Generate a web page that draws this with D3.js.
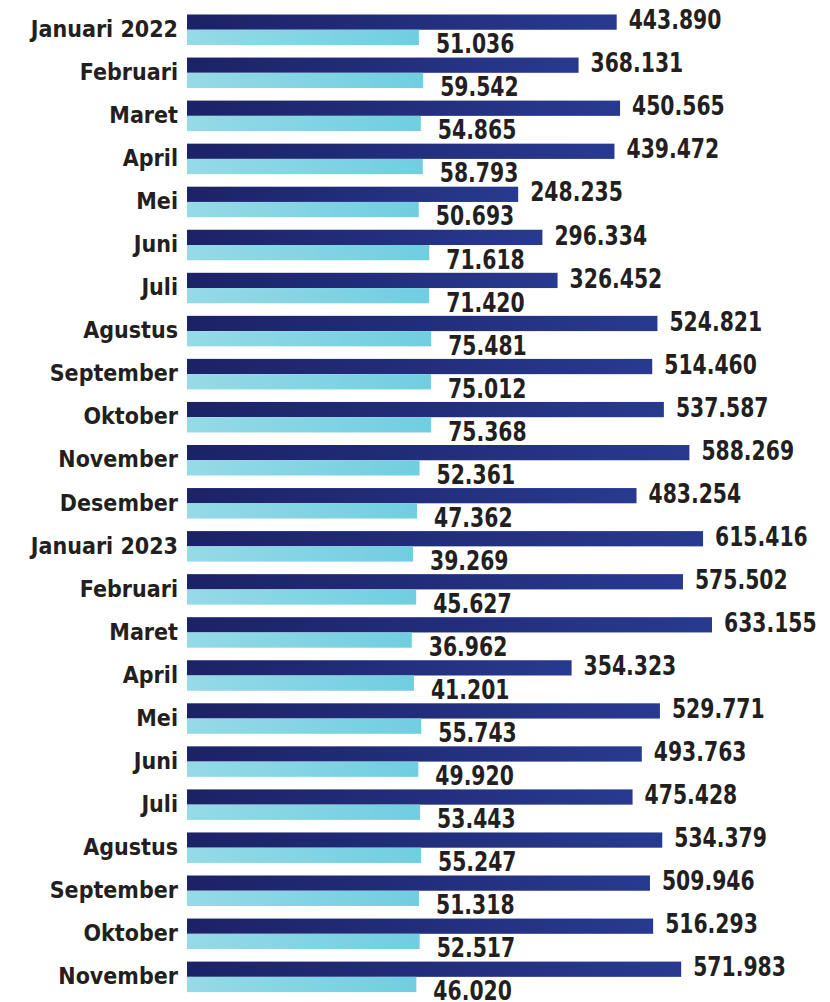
<!DOCTYPE html>
<html>
<head>
<meta charset="utf-8">
<script src="https://cdn.jsdelivr.net/npm/d3@7"></script>
<style>
  html, body { margin: 0; padding: 0; background: #fff; }
  svg { display: block; }
  .cat   { font-family: "DejaVu Sans Condensed", "DejaVu Sans", sans-serif; font-weight: bold; font-size: 23px; fill: #231f20; }
  .value { font-family: "DejaVu Sans Condensed", "DejaVu Sans", sans-serif; font-weight: bold; font-size: 26px; fill: #231f20; }
</style>
</head>
<body>
<svg id="chart"></svg>
<script>
// Month labels, top to bottom.
const months = [
  'Januari 2022', 'Februari', 'Maret', 'April', 'Mei', 'Juni', 'Juli', 'Agustus',
  'September', 'Oktober', 'November', 'Desember',
  'Januari 2023', 'Februari', 'Maret', 'April', 'Mei', 'Juni', 'Juli', 'Agustus',
  'September', 'Oktober', 'November'
];

// Dark (upper) bar of each pair.
const seriesA = [
  443890, 368131, 450565, 439472, 248235, 296334, 326452, 524821,
  514460, 537587, 588269, 483254,
  615416, 575502, 633155, 354323, 529771, 493763, 475428, 534379,
  509946, 516293, 571983
];

// Light (lower) bar of each pair.
const seriesB = [
  51036, 59542, 54865, 58793, 50693, 71618, 71420, 75481,
  75012, 75368, 52361, 47362,
  39269, 45627, 36962, 41201, 55743, 49920, 53443, 55247,
  51318, 52517, 46020
];

const W = 830, H = 1002;
const barLeft = 187;

const svg = d3.select('#chart').attr('width', W).attr('height', H);

// Gradients for both series.
const defs = svg.append('defs');
const grads = [
  { id: 'gA', from: '#1c2266', to: '#283a90' },
  { id: 'gB', from: '#96dae7', to: '#70cee0' }
];
grads.forEach(g => {
  const lg = defs.append('linearGradient').attr('id', g.id)
    .attr('x1', 0).attr('x2', 1).attr('y1', 0).attr('y2', 0);
  lg.append('stop').attr('offset', 0).attr('stop-color', g.from);
  lg.append('stop').attr('offset', 1).attr('stop-color', g.to);
});

const rows = months.map((m, i) => ({ key: i, label: m, a: seriesA[i], b: seriesB[i] }));

// Row bands and the two bars inside each row.
const y = d3.scaleBand()
  .domain(rows.map(d => d.key))
  .range([14.5, 992.1])
  .paddingInner(0.2915)
  .paddingOuter(0);

const ySub = d3.scaleBand()
  .domain(['a', 'b'])
  .range([0, y.bandwidth()]);

// Value axis: bars are drawn from the label edge, the scale has an offset baseline.
const x = d3.scaleLinear()
  .domain([0, 1000000])
  .range([barLeft + 206.2, barLeft + 206.2 + 503.5]);

const fmt = d3.formatLocale({ decimal: ',', thousands: '.', grouping: [3], currency: ['Rp', ''] }).format(',d');

const row = svg.append('g').selectAll('g.row')
  .data(rows)
  .enter()
  .append('g')
    .attr('class', 'row')
    .attr('transform', d => `translate(0, ${y(d.key)})`);

row.append('text')
  .attr('class', 'cat')
  .attr('x', 178)
  .attr('y', 22.5)
  .attr('text-anchor', 'end')
  .text(d => d.label);

const series = [
  { key: 'a', fill: 'url(#gA)', gap: 12, base: 14.8 },
  { key: 'b', fill: 'url(#gB)', gap: 17, base: 38.8 }
];

series.forEach(s => {
  row.append('rect')
    .attr('x', barLeft)
    .attr('y', ySub(s.key))
    .attr('width', d => x(d[s.key]) - barLeft)
    .attr('height', ySub.bandwidth())
    .attr('fill', s.fill);
  // Narrow the labels a little to get the condensed look.
  row.append('text')
    .attr('class', 'value')
    .attr('transform', d => `translate(${x(d[s.key]) + s.gap}, ${s.base}) scale(0.87, 1)`)
    .text(d => fmt(d[s.key]));
});
</script>
</body>
</html>
